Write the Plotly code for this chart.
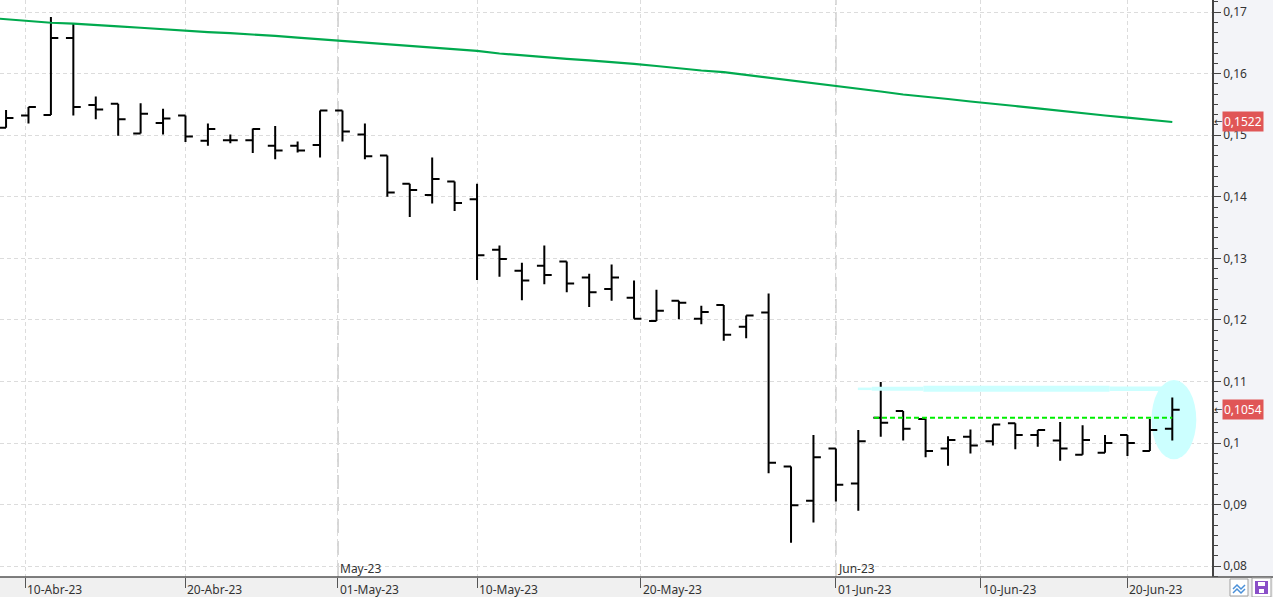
import plotly.graph_objects as go

# ---------------- data ----------------
dates = ["2023-04-06", "2023-04-11", "2023-04-12", "2023-04-13", "2023-04-14", "2023-04-17",
         "2023-04-18", "2023-04-19", "2023-04-20", "2023-04-21", "2023-04-24", "2023-04-25",
         "2023-04-26", "2023-04-27", "2023-04-28", "2023-05-02", "2023-05-03", "2023-05-04",
         "2023-05-05", "2023-05-08", "2023-05-09", "2023-05-10", "2023-05-11", "2023-05-12",
         "2023-05-15", "2023-05-16", "2023-05-17", "2023-05-18", "2023-05-19", "2023-05-22",
         "2023-05-23", "2023-05-24", "2023-05-25", "2023-05-26", "2023-05-29", "2023-05-30",
         "2023-05-31", "2023-06-01", "2023-06-02", "2023-06-05", "2023-06-06", "2023-06-07",
         "2023-06-08", "2023-06-09", "2023-06-12", "2023-06-13", "2023-06-14", "2023-06-15",
         "2023-06-16", "2023-06-19", "2023-06-20", "2023-06-21", "2023-06-22"]

opens = [0.1512, 0.1532, 0.1533, 0.1658, 0.1549, 0.1551, 0.1503, 0.1520, 0.1532, 0.1491,
         0.1492, 0.1492, 0.1483, 0.1483, 0.1484, 0.1540, 0.1501, 0.1467, 0.1421, 0.1403,
         0.1425, 0.1396, 0.1314, 0.1280, 0.1288, 0.1295, 0.1269, 0.1250, 0.1236, 0.1198,
         0.1231, 0.1202, 0.1224, 0.1189, 0.1212, 0.0962, 0.0906, 0.0991, 0.0934, 0.1041,
         0.1052, 0.1039, 0.0991, 0.1010, 0.1003, 0.1032, 0.1013, 0.1004, 0.0981, 0.0984,
         0.1013, 0.0987, 0.1023]
highs = [0.1541, 0.1546, 0.1692, 0.1682, 0.1563, 0.1551, 0.1552, 0.1543, 0.1532, 0.1519,
         0.1501, 0.1511, 0.1515, 0.1490, 0.1540, 0.1540, 0.1519, 0.1467, 0.1421, 0.1464,
         0.1425, 0.1421, 0.1321, 0.1293, 0.1321, 0.1295, 0.1275, 0.1290, 0.1264, 0.1249,
         0.1231, 0.1223, 0.1224, 0.1207, 0.1243, 0.0962, 0.1013, 0.0991, 0.1021, 0.1099,
         0.1052, 0.1039, 0.1011, 0.1022, 0.1030, 0.1032, 0.1021, 0.1034, 0.1029, 0.1013,
         0.1013, 0.1039, 0.1074]
lows = [0.1512, 0.1519, 0.1533, 0.1532, 0.1526, 0.1499, 0.1503, 0.1501, 0.1489, 0.1483,
        0.1487, 0.1471, 0.1461, 0.1472, 0.1464, 0.1490, 0.1461, 0.1400, 0.1367, 0.1389,
        0.1377, 0.1265, 0.1270, 0.1232, 0.1258, 0.1245, 0.1221, 0.1231, 0.1202, 0.1198,
        0.1201, 0.1193, 0.1166, 0.1170, 0.0951, 0.0838, 0.0871, 0.0905, 0.0890, 0.1010,
        0.1004, 0.0977, 0.0963, 0.0983, 0.0996, 0.0990, 0.0994, 0.0971, 0.0981, 0.0984,
        0.0979, 0.0987, 0.1004]
closes = [0.1528, 0.1546, 0.1658, 0.1546, 0.1542, 0.1526, 0.1535, 0.1527, 0.1498, 0.1510,
          0.1492, 0.1510, 0.1475, 0.1475, 0.1540, 0.1506, 0.1466, 0.1407, 0.1411, 0.1429,
          0.1390, 0.1305, 0.1299, 0.1264, 0.1273, 0.1259, 0.1245, 0.1269, 0.1202, 0.1215,
          0.1228, 0.1213, 0.1176, 0.1207, 0.0968, 0.0899, 0.0977, 0.0932, 0.1003, 0.1033,
          0.1023, 0.0987, 0.1005, 0.0996, 0.1030, 0.1013, 0.1021, 0.0991, 0.1005, 0.1000,
          0.1000, 0.1021, 0.1054]

# moving average (starts one session before the first visible bar)
ma_values = [0.16913, 0.16882, 0.16855, 0.16827, 0.16812, 0.16796, 0.16770, 0.16746, 0.16720,
             0.16695, 0.16674, 0.16658, 0.16640, 0.16613, 0.16585, 0.16559, 0.16531, 0.16499,
             0.16474, 0.16447, 0.16418, 0.16393, 0.16369, 0.16328, 0.16296, 0.16263, 0.16239,
             0.16215, 0.16190, 0.16158, 0.16125, 0.16085, 0.16052, 0.16024, 0.15979, 0.15946,
             0.15898, 0.15849, 0.15800, 0.15760, 0.15711, 0.15662, 0.15630, 0.15589, 0.15548,
             0.15516, 0.15475, 0.15435, 0.15394, 0.15361, 0.15321, 0.15285, 0.15248, 0.15215]

x_tick_pos = [0.85, 8, 14.8, 21, 28.3, 37, 43.47, 50]
x_tick_text = ["10-Abr-23", "20-Abr-23", "01-May-23", "10-May-23",
               "20-May-23", "01-Jun-23", "10-Jun-23", "20-Jun-23"]
month_pos = [14.8, 37]
month_text = ["May-23", "Jun-23"]

last_ma_label = "0,1522"
last_ma_value = 0.1522
last_close_label = "0,1054"
last_close_value = 0.1054

# drawings
support_level = 0.1041
support_start, support_end = 38.7, 52
resistance_level = 0.1088
resistance_breaks = [37.98, 38.6, 40.9, 49.2, 51.6]
resistance_widths = [2.5, 4, 6, 4.5]
ellipse_center_x, ellipse_center_y = 52.07, 0.10379
ellipse_rx, ellipse_ry = 1.0, 0.00645

# ---------------- layout constants ----------------
W, H = 1273, 597
ML, MR, MT, MB = 0, 61, 0, 20
PW, PH = W - ML - MR, H - MT - MB
FONT = "Noto Sans"


def px2x(px):
    return (px - ML) / PW


def py2y(py):
    return (H - MB - py) / PH


idx = list(range(len(dates)))
ma_x = list(range(-1, len(dates)))

fig = go.Figure()

# resistance highlight (tapered cyan stroke)
for k in range(len(resistance_widths)):
    fig.add_trace(go.Scatter(
        x=[resistance_breaks[k], resistance_breaks[k + 1]],
        y=[resistance_level, resistance_level],
        mode="lines", line=dict(color="#ccffff", width=resistance_widths[k]),
        hoverinfo="skip", showlegend=False))

fig.add_trace(go.Ohlc(
    x=idx, open=opens, high=highs, low=lows, close=closes,
    increasing=dict(line=dict(color="black", width=2)),
    decreasing=dict(line=dict(color="black", width=2)),
    tickwidth=0.33, hoverinfo="skip", showlegend=False))

fig.add_trace(go.Scatter(
    x=ma_x, y=ma_values, mode="lines",
    line=dict(color="#00aa4e", width=2.2), hoverinfo="skip", showlegend=False))

fig.add_trace(go.Scatter(
    x=[support_start, support_end], y=[support_level, support_level], mode="lines",
    line=dict(color="#00ee00", width=2, dash="5px,3px"), hoverinfo="skip", showlegend=False))

shapes = []
# right panel background
shapes.append(dict(type="rect", xref="paper", yref="paper", x0=1, x1=px2x(W), y0=0, y1=1,
                   fillcolor="#f3f4f8", line=dict(width=0), layer="below"))
# ellipse highlight
shapes.append(dict(type="circle", xref="x", yref="y",
                   x0=ellipse_center_x - ellipse_rx, x1=ellipse_center_x + ellipse_rx,
                   y0=ellipse_center_y - ellipse_ry, y1=ellipse_center_y + ellipse_ry,
                   fillcolor="#ccffff", line=dict(width=0), layer="between"))
# month separators
for mp in month_pos:
    shapes.append(dict(type="line", xref="x", yref="paper", x0=mp, x1=mp, y0=0, y1=1,
                       line=dict(color="#c8c8c8", width=1.5, dash="14px,8px"), layer="between"))
# bottom axis line across full width
shapes.append(dict(type="line", xref="paper", yref="paper", x0=0, x1=px2x(W), y0=0, y1=0,
                   line=dict(color="#555555", width=1.5)))
# small buttons bottom-right
shapes.append(dict(type="rect", xref="paper", yref="paper", x0=px2x(1230), x1=px2x(1248),
                   y0=py2y(596), y1=py2y(579), fillcolor="#ffffff",
                   line=dict(color="#a0a0a0", width=1)))
shapes.append(dict(type="path", xref="paper", yref="paper",
                   path="M {} {} L {} {} L {} {} L {} {}".format(
                       px2x(1233), py2y(589), px2x(1237), py2y(585),
                       px2x(1241), py2y(589), px2x(1245), py2y(585)),
                   line=dict(color="#4a90d9", width=1.5)))
shapes.append(dict(type="path", xref="paper", yref="paper",
                   path="M {} {} L {} {} L {} {} L {} {}".format(
                       px2x(1233), py2y(593), px2x(1237), py2y(589),
                       px2x(1241), py2y(593), px2x(1245), py2y(589)),
                   line=dict(color="#4a90d9", width=1.5)))
shapes.append(dict(type="rect", xref="paper", yref="paper", x0=px2x(1252), x1=px2x(1271),
                   y0=py2y(597), y1=py2y(578), fillcolor="#ffffff",
                   line=dict(color="#a0a0a0", width=1)))
shapes.append(dict(type="rect", xref="paper", yref="paper", x0=px2x(1255), x1=px2x(1268),
                   y0=py2y(594), y1=py2y(581), fillcolor="#8a4fc8",
                   line=dict(width=0)))
shapes.append(dict(type="rect", xref="paper", yref="paper", x0=px2x(1258), x1=px2x(1265),
                   y0=py2y(586), y1=py2y(582), fillcolor="#ffffff",
                   line=dict(width=0)))
shapes.append(dict(type="rect", xref="paper", yref="paper", x0=px2x(1259), x1=px2x(1264),
                   y0=py2y(593), y1=py2y(589), fillcolor="#ffffff",
                   line=dict(width=0)))

annotations = []
for xp, txt in zip(x_tick_pos, x_tick_text):
    annotations.append(dict(x=xp, xref="x", y=py2y(589), yref="paper", text=txt,
                            showarrow=False, xanchor="left", yanchor="middle", xshift=0,
                            font=dict(family=FONT, size=12, color="#333333")))
for mp, txt in zip(month_pos, month_text):
    annotations.append(dict(x=mp, xref="x", y=py2y(568), yref="paper", text=txt,
                            showarrow=False, xanchor="left", yanchor="middle", xshift=0,
                            font=dict(family=FONT, size=12, color="#333333")))
for val, txt in [(last_ma_value, last_ma_label), (last_close_value, last_close_label)]:
    annotations.append(dict(x=1, xref="paper", y=val, yref="y", text=txt, showarrow=False,
                            xanchor="left", yanchor="middle", xshift=10,
                            bgcolor="#e05656", borderpad=1,
                            font=dict(family=FONT, size=12, color="#ffffff")))
    annotations.append(dict(x=1, xref="paper", y=val, yref="y", text="←", showarrow=False,
                            xanchor="left", yanchor="middle", xshift=0,
                            font=dict(family="DejaVu Sans", size=10, color="#333333")))

fig.update_layout(
    template="none",
    width=W, height=H, autosize=False,
    margin=dict(l=ML, r=MR, t=MT, b=MB, pad=0),
    paper_bgcolor="#f0f0f0", plot_bgcolor="#ffffff",
    separators=",.",
    showlegend=False,
    shapes=shapes, annotations=annotations,
    font=dict(family=FONT, size=12, color="#333333"),
    xaxis=dict(
        range=[-0.27, 53.77], tickmode="array", tickvals=x_tick_pos,
        ticktext=["" for _ in x_tick_pos], showticklabels=False,
        ticks="outside", ticklen=10, tickcolor="#555555", tickwidth=1,
        showgrid=True, gridcolor="#dcdcdc", griddash="4px,3px", gridwidth=1,
        showline=False, zeroline=False, automargin=False,
        rangeslider=dict(visible=False), fixedrange=True),
    yaxis=dict(
        side="right", range=[0.07823, 0.17197], tick0=0.08, dtick=0.01,
        ticks="outside", ticklen=7, tickcolor="#444444", tickwidth=1,
        tickfont=dict(family=FONT, size=12, color="#333333"),
        showgrid=True, gridcolor="#dcdcdc", griddash="4px,3px", gridwidth=1,
        showline=True, linecolor="#444444", linewidth=1.5,
        zeroline=False, automargin=False, fixedrange=True,
        minor=dict(tick0=0.08, dtick=0.01 / 6, ticklen=4, tickcolor="#444444",
                   ticks="outside", showgrid=False)),
)

fig.write_html("out.html")
